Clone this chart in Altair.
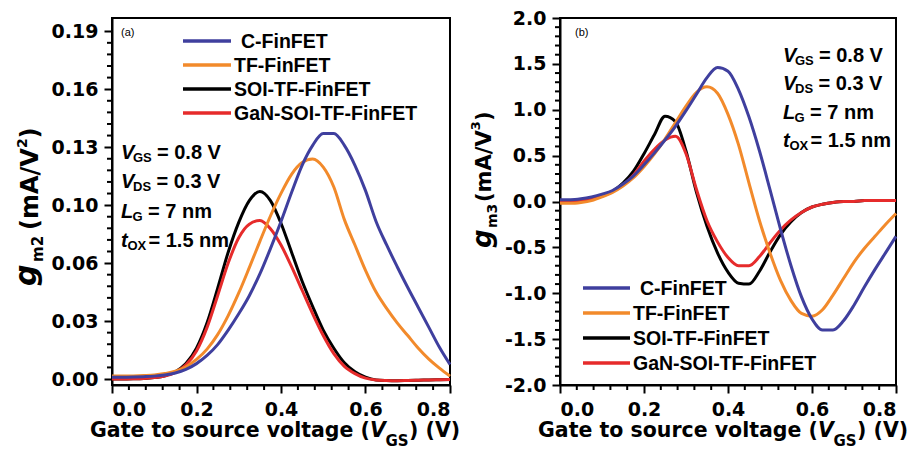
import altair as alt
import pandas as pd

# ---------------- data ----------------
vgs = [0.0, 0.025, 0.05, 0.075, 0.1, 0.125, 0.15, 0.175, 0.2, 0.225, 0.25,
       0.275, 0.3, 0.325, 0.35, 0.375, 0.4, 0.425, 0.45, 0.475, 0.5, 0.525,
       0.55, 0.575, 0.6, 0.625, 0.65, 0.675, 0.7, 0.725, 0.75, 0.775, 0.8]

series = ["C-FinFET", "TF-FinFET", "SOI-TF-FinFET", "GaN-SOI-TF-FinFET"]
colors = ["#3F3F9E", "#F28A2B", "#000000", "#E62B2B"]

gm2_c = [0.0010, 0.0010, 0.0011, 0.0013, 0.0016, 0.0022, 0.0033, 0.0053, 0.0085, 0.0130,
         0.0190, 0.0270, 0.0360, 0.0460, 0.0580, 0.0720, 0.0870, 0.1030, 0.1180, 0.1290,
         0.1355, 0.1355, 0.1290, 0.1180, 0.1040, 0.0870, 0.0740, 0.0620, 0.0505, 0.0395,
         0.0285, 0.0175, 0.0080]
gm2_tf = [0.0016, 0.0016, 0.0017, 0.0019, 0.0022, 0.0030, 0.0043, 0.0068, 0.0108, 0.0165,
          0.0245, 0.0350, 0.0475, 0.0615, 0.0760, 0.0900, 0.1025, 0.1130, 0.1195, 0.1215,
          0.1170, 0.1060, 0.0880, 0.0740, 0.0600, 0.0480, 0.0390, 0.0310, 0.0240, 0.0170,
          0.0110, 0.0060, 0.0016]
gm2_soi = [0.0000, 0.0000, 0.0001, 0.0003, 0.0008, 0.0018, 0.0040, 0.0085, 0.0170, 0.0310,
           0.0500, 0.0700, 0.0865, 0.0985, 0.1035, 0.0985, 0.0860, 0.0700, 0.0540, 0.0400,
           0.0270, 0.0170, 0.0090, 0.0040, 0.0010, -0.0005, -0.0008, -0.0009, -0.0008, -0.0007,
           -0.0005, -0.0004, -0.0003]
gm2_gan = [0.0000, 0.0000, 0.0001, 0.0003, 0.0008, 0.0017, 0.0037, 0.0078, 0.0155, 0.0285,
           0.0460, 0.0640, 0.0780, 0.0855, 0.0875, 0.0830, 0.0740, 0.0620, 0.0490, 0.0360,
           0.0240, 0.0140, 0.0070, 0.0030, 0.0005, -0.0005, -0.0008, -0.0009, -0.0008, -0.0007,
           -0.0005, -0.0004, -0.0003]

gm3_c = [0.02, 0.02, 0.03, 0.05, 0.08, 0.12, 0.19, 0.28, 0.40, 0.53, 0.67, 0.82, 0.99,
         1.17, 1.35, 1.46, 1.42, 1.22, 0.92, 0.55, 0.13, -0.30, -0.70, -1.04, -1.28, -1.40,
         -1.40, -1.30, -1.13, -0.93, -0.74, -0.56, -0.38]
gm3_tf = [-0.02, -0.02, -0.01, 0.01, 0.05, 0.10, 0.17, 0.26, 0.38, 0.52, 0.68, 0.86, 1.04,
          1.19, 1.25, 1.18, 0.95, 0.62, 0.20, -0.21, -0.56, -0.86, -1.08, -1.22, -1.25, -1.18,
          -1.02, -0.84, -0.66, -0.51, -0.38, -0.25, -0.13]
gm3_soi = [0.00, 0.00, 0.01, 0.03, 0.06, 0.11, 0.20, 0.33, 0.52, 0.73, 0.93, 0.87, 0.55,
           0.10, -0.27, -0.56, -0.77, -0.89, -0.90, -0.76, -0.55, -0.36, -0.22, -0.12, -0.06,
           -0.03, -0.01, 0.00, 0.00, 0.01, 0.01, 0.01, 0.01]
gm3_gan = [0.00, 0.00, 0.01, 0.03, 0.06, 0.11, 0.18, 0.29, 0.44, 0.57, 0.67, 0.71, 0.52,
           0.13, -0.21, -0.44, -0.61, -0.70, -0.70, -0.60, -0.45, -0.31, -0.20, -0.12, -0.06,
           -0.03, -0.01, 0.00, 0.00, 0.01, 0.01, 0.01, 0.01]

x_ticks = [0.0, 0.2, 0.4, 0.6, 0.8]
x_minor = [0.04, 0.08, 0.12, 0.16, 0.24, 0.28, 0.32, 0.36, 0.44, 0.48, 0.52, 0.56,
           0.64, 0.68, 0.72, 0.76]
ya_ticks = [0.0, 0.032, 0.064, 0.096, 0.128, 0.16, 0.192]
ya_minor = [0.0064, 0.0128, 0.0192, 0.0256, 0.0384, 0.0448, 0.0512, 0.0576, 0.0704,
            0.0768, 0.0832, 0.0896, 0.1024, 0.1088, 0.1152, 0.1216, 0.1344, 0.1408,
            0.1472, 0.1536, 0.1664, 0.1728, 0.1792, 0.1856]
yb_ticks = [-2.0, -1.5, -1.0, -0.5, 0.0, 0.5, 1.0, 1.5, 2.0]
yb_minor = [-1.9, -1.8, -1.7, -1.6, -1.4, -1.3, -1.2, -1.1, -0.9, -0.8, -0.7, -0.6,
            -0.4, -0.3, -0.2, -0.1, 0.1, 0.2, 0.3, 0.4, 0.6, 0.7, 0.8, 0.9,
            1.1, 1.2, 1.3, 1.4, 1.6, 1.7, 1.8, 1.9]

params_a = [("V", "GS", "= 0.8 V"), ("V", "DS", "= 0.3 V"), ("L", "G", "= 7 nm"),
            ("t", "OX", "= 1.5 nm")]

# ---------------- styling / layout ----------------
AX = "DejaVu Sans"
TX = "Liberation Sans, Arial, sans-serif"
W_A, W_B, H = 338, 336, 367
ONE = pd.DataFrame({"k": [0]})
XS = alt.Scale(domain=[0, 0.8], nice=False, zero=False)


def txt(s, x, y, size, font=TX, style="normal", weight="bold", angle=None,
        align="left", baseline="alphabetic"):
    kw = dict(text=s, font=font, fontSize=size, fontStyle=style, fontWeight=weight,
              align=align, baseline=baseline, color="black")
    if angle is not None:
        kw["angle"] = angle
    return alt.Chart(ONE).mark_text(**kw).encode(x=alt.value(x), y=alt.value(y))


def panel(curves, ydom, yticks, yminor, ylabel_expr, width, legend, params, tag,
          ytitle):
    ys = alt.Scale(domain=ydom, nice=False, zero=False)
    xa = alt.Axis(values=x_ticks, format=".1f", title=None, labelPadding=7)
    ya = alt.Axis(values=yticks, labelExpr=ylabel_expr, title=None, labelPadding=6)
    layers = []
    order = [2, 3, 1, 0]
    for i in order:
        df = pd.DataFrame({"x": vgs, "y": curves[i]})
        layers.append(alt.Chart(df).mark_line(
            color=colors[i], strokeWidth=3, interpolate="monotone").encode(
            x=alt.X("x:Q", scale=XS, axis=xa),
            y=alt.Y("y:Q", scale=ys, axis=ya)))
    # minor ticks (short outward ticks between the labelled ones)
    layers.append(alt.Chart(pd.DataFrame({"y": yminor})).mark_tick(
        color="black", thickness=2, size=5, orient="horizontal", opacity=1).encode(
        y=alt.Y("y:Q", scale=ys, axis=ya), x=alt.value(-2.5)))
    layers.append(alt.Chart(pd.DataFrame({"x": x_minor})).mark_tick(
        color="black", thickness=2, size=5, orient="vertical", opacity=1).encode(
        x=alt.X("x:Q", scale=XS, axis=xa), y=alt.value(H + 2.5)))
    # legend
    lx1, lx2, ly0, ldy, tx_c, tx_o = legend
    for i, name in enumerate(series):
        yy = ly0 + i * ldy
        layers.append(alt.Chart(ONE).mark_rule(color=colors[i], strokeWidth=3.5).encode(
            x=alt.value(lx1), x2=alt.value(lx2), y=alt.value(yy)))
        layers.append(txt(name, tx_c if i == 0 else tx_o, yy + 1, 19.5,
                          baseline="middle"))
    # parameter annotations
    px0, py0, pdy = params
    mainw = {"V": 12.0, "L": 11.5, "t": 6.5}
    subw = {"GS": 19.0, "DS": 18.5, "G": 10.5, "OX": 18.0}
    gap = {"V": 5, "L": 5, "t": 3}
    for i, (a, b, c) in enumerate(params_a):
        yy = py0 + i * pdy
        layers.append(txt(a, px0, yy, 20, style="italic"))
        layers.append(txt(b, px0 + mainw[a], yy + 3, 13))
        layers.append(txt(c, px0 + mainw[a] + subw[b] + gap[a], yy, 20))
    # panel tag
    layers.append(txt(tag[0], tag[1], tag[2], 11, weight="normal", baseline="middle"))
    # x title
    layers.append(txt("Gate to source voltage (", -22, H + 52, 20.5, font=AX))
    layers.append(txt("V", 258, H + 52, 20.5, font=AX, style="italic"))
    layers.append(txt("GS", 273.5, H + 61, 15, font=AX))
    layers.append(txt(") (V)", 297, H + 52, 20.5, font=AX))
    # y title (rotated)
    for s, x, y, size, style in ytitle:
        layers.append(txt(s, x, y, size, font=AX, style=style, angle=270))
    return alt.layer(*layers).properties(width=width, height=H)


neg_a = "format(datum.value, '.2f')"
neg_b = "(datum.value < 0 ? '-' : '') + format(abs(datum.value), '.1f')"

ytitle_a = [("g", -76, 268, 30, "italic"), ("m2", -69, 244, 15, "normal"),
            ("(mA/V", -74, 212, 24, "normal"), ("2", -85, 130, 14, "normal"),
            (")", -74, 120.5, 24, "normal")]
ytitle_b = [("g", -69, 230, 26, "italic"), ("m3", -63, 210, 14, "normal"),
            ("(mA/V", -69, 184, 21, "normal"), ("3", -80, 112.3, 13, "normal"),
            (")", -69, 103, 21, "normal")]

left = panel([gm2_c, gm2_tf, gm2_soi, gm2_gan], [-0.0033, 0.1993], ya_ticks, ya_minor,
             neg_a, W_A, (71, 119, 23, 24, 129, 122), (9, 141, 29.3), ("(a)", 9, 15),
             ytitle_a)
right = panel([gm3_c, gm3_tf, gm3_soi, gm3_gan], [-2.0, 2.0], yb_ticks, yb_minor,
              neg_b, W_B, (23, 70, 270, 25, 80, 73), (223, 44, 28.3), ("(b)", 15, 15),
              ytitle_b)

chart = alt.hconcat(left, right, spacing=110, bounds="flush").configure_view(
    stroke="black", strokeWidth=2).configure_axis(
    domainColor="black", domainWidth=2, tickColor="black", tickWidth=2, tickSize=8,
    labelFont=AX, labelFontSize=19, labelFontWeight="bold", labelColor="black",
    grid=False).properties(padding={"left": 3, "top": 0, "right": -1, "bottom": -1},
                           background="white")

chart.save("out.html", embed_options={"renderer": "svg", "actions": False})
